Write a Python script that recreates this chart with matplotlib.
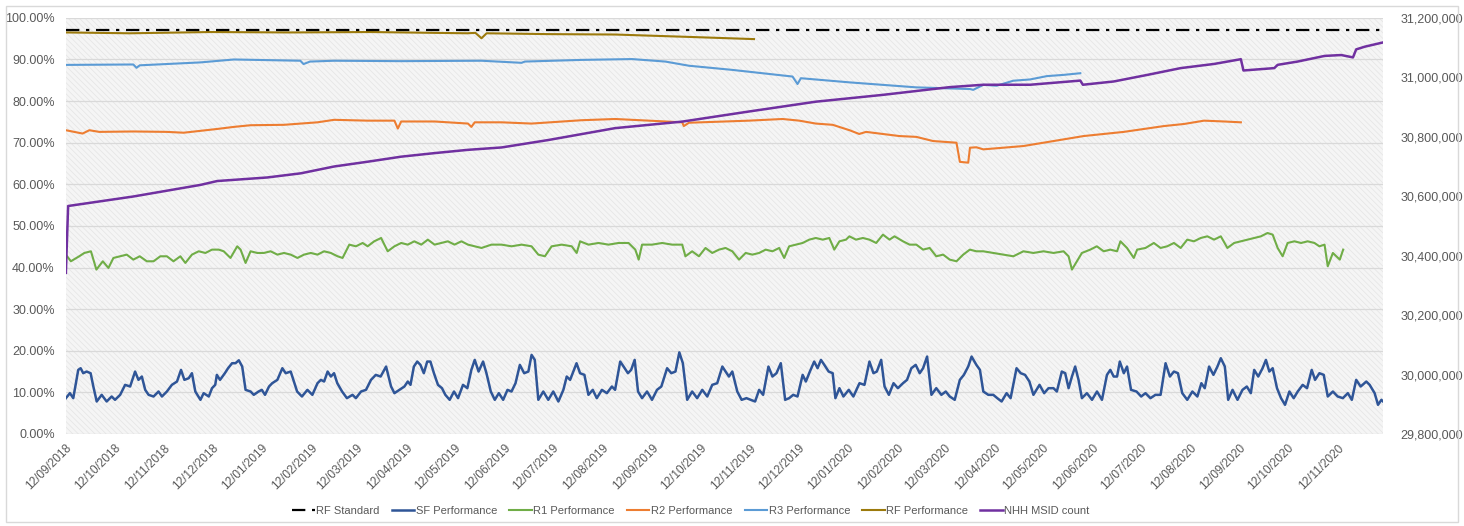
import numpy as np
import matplotlib
matplotlib.use("Agg")
import matplotlib.pyplot as plt
import matplotlib.dates as mdates
from matplotlib.patches import Rectangle
from matplotlib.ticker import FuncFormatter

START = "2018-09-12"
END_DAY = 820.5

RF_STANDARD = 97.0

# SF Performance (%), days after 12/09/2018
sf_day = [0, 2.5, 4.6, 7.7, 9.2, 10.8, 12.9, 15.4, 17.1, 19.2, 22.3, 25.4, 28.5, 30.6, 33.8, 36.9, 40, 43.1, 45.2, 47.3,
          49.4, 51.5, 54.6, 57.7, 59.8, 62.9, 66, 69.2, 71.7, 73.8, 76.5, 78.5, 80.6, 83.8, 85.8, 89, 91, 93, 94, 96,
          99, 101, 103.5, 105.6, 107.7, 109.8, 111.9, 115, 117, 120, 122, 124, 126.5, 128.5, 131.7, 134.8, 136.9, 140, 142, 144,
          147, 150.4, 153.5, 156.7, 158.8, 160.8, 163, 165, 167, 169, 172, 175, 178.5, 180.6, 183.8, 186.9, 190, 193, 196, 199.4,
          202.5, 204.6, 207.7, 210.8, 212.9, 214.6, 216.7, 218.8, 220.8, 222.9, 225, 227, 229.2, 231.7, 234.2, 236.3, 239, 241.7, 244.2, 247.3,
          250, 252.5, 254.6, 257, 259.8, 261.9, 264.6, 267.1, 269.6, 272.3, 275, 277.5, 280, 282.7, 285.4, 288, 290, 292, 294.2, 297.3,
          300.4, 303.5, 306.7, 309.8, 311.9, 314, 316, 318, 320.2, 322.9, 325.4, 328.1, 330.6, 333.8, 336.9, 340, 342, 345.2, 347.3, 350,
          352, 354.2, 356.3, 358.8, 361.9, 365, 368.1, 370.8, 374.4, 377, 379.6, 382, 384.2, 386.9, 390, 393.1, 396.3, 399.4, 402.5, 405.6,
          408.8, 410.8, 412.9, 415, 418.1, 420.8, 423.8, 426.5, 429.2, 431.7, 434.2, 437.5, 440, 442.5, 445.2, 447.9, 450.4, 452.9, 455.6, 458.8,
          460.8, 463.3, 466, 468.1, 470.2, 472.3, 475, 477.5, 479.2, 481.7, 484.2, 487.5, 490.4, 494.2, 497.3, 500.4, 502.9, 505, 507.7, 509.8,
          512.5, 515.4, 518.1, 521.3, 523.8, 526.5, 529.2, 531.7, 533.8, 536.3, 539, 542, 545.2, 547.9, 550.4, 553.5, 556.7, 559.2, 561.9, 564,
          567, 569.2, 571.3, 574.4, 577.5, 580, 582.7, 585.8, 588.3, 592, 594.6, 597.3, 600, 602.5, 606.3, 609.2, 611.9,
          615, 617.1, 620.2, 622.3, 624.4, 626.5, 628.5, 630.6, 632.7, 635.8, 639, 642.1, 645.2, 648.3, 650.4, 652.5, 654.6, 656.3, 658.8, 660.8,
          663.3, 666.7, 669.6, 672.3, 675.4, 678.5, 681.7, 684.8, 687.5, 690, 692.5, 695.2, 698.3, 701.5, 704.6, 707.1, 709.2, 711.9, 714.6, 717.1,
          719.2, 721.7, 723.8, 726.5, 729.6, 732.7, 735.4, 737.9, 740, 742.5, 745.2, 747.3, 749.4, 751.5, 754.2, 756.7, 759.2, 761.9, 764.6, 767.1,
          770.2, 772.9, 775.8, 777.9, 780.6, 783.3, 785.8, 789, 792, 795.2, 798.3, 800.8, 803.5, 806.3, 809.8, 811.9, 815, 817.1, 819.2, 821.3, 823.3]
sf_val = [8.6, 9.8, 8.6, 15.4, 15.8, 14.6, 15.0, 14.6, 11.4, 7.8, 9.4, 7.8, 9.0, 8.2, 9.4, 11.8, 11.4, 15.0, 13.0, 13.8,
          10.6, 9.4, 9.0, 10.2, 9.0, 10.2, 11.8, 12.6, 15.4, 13.0, 13.4, 14.6, 10.2, 8.2, 9.8, 9.0, 11.0, 11.8, 14.2, 13.0,
          14.6, 15.8, 17.0, 17.0, 17.7, 16.2, 10.6, 10.2, 9.4, 10.2, 10.6, 9.4, 11.4, 12.2, 13.0, 15.8, 14.6, 15.0, 12.6, 10.2,
          9.0, 10.6, 9.4, 12.2, 13.0, 12.6, 15.0, 13.8, 14.6, 12.2, 10.2, 8.6, 9.4, 8.6, 10.2, 10.6, 13.0, 14.2, 13.8, 16.2,
          11.4, 9.8, 10.6, 11.4, 12.6, 11.8, 16.2, 17.4, 16.6, 14.6, 17.4, 17.4, 14.6, 11.8, 11.0, 9.4, 8.2, 10.2, 8.6, 11.8,
          11.0, 15.4, 17.8, 15.0, 17.4, 14.6, 10.2, 8.2, 9.8, 8.2, 10.6, 10.2, 12.2, 16.6, 14.6, 15.0, 19.0, 17.8, 8.2, 10.2,
          8.2, 10.2, 7.8, 10.6, 13.8, 13.0, 15.0, 17.0, 14.6, 14.2, 9.4, 10.6, 8.6, 10.6, 9.8, 11.4, 10.6, 17.4, 16.2, 14.6,
          15.4, 17.8, 10.2, 8.6, 10.2, 8.2, 10.6, 11.4, 15.8, 14.6, 15.0, 19.6, 17.0, 8.2, 10.2, 8.6, 10.6, 9.0, 11.8, 12.2,
          16.2, 15.0, 13.8, 15.0, 10.2, 8.2, 8.6, 8.2, 7.8, 10.6, 9.4, 16.2, 13.8, 14.6, 17.0, 8.2, 8.6, 9.4, 9.0, 14.2,
          12.6, 15.0, 17.4, 15.8, 17.8, 16.6, 15.0, 14.6, 8.6, 11.0, 9.0, 10.6, 9.0, 12.2, 11.8, 17.4, 14.6, 15.0, 17.8, 11.4,
          9.4, 12.2, 11.0, 12.2, 13.0, 15.8, 16.6, 14.6, 15.8, 18.6, 9.4, 11.0, 9.4, 10.2, 9.0, 8.2, 13.0, 14.2, 16.2, 18.6,
          16.6, 15.4, 10.2, 9.4, 9.4, 8.6, 7.8, 9.8, 8.6, 15.8, 14.6, 14.2, 12.6, 9.4, 11.8, 9.8, 11.0,
          11.0, 10.2, 15.0, 14.6, 11.0, 13.8, 16.2, 13.0, 8.6, 9.8, 8.2, 10.2, 8.2, 14.2, 15.4, 13.8, 13.8, 17.4, 14.6, 16.2,
          10.6, 10.2, 9.0, 9.8, 8.6, 9.4, 9.4, 17.0, 13.8, 15.0, 14.6, 9.8, 8.2, 10.2, 9.0, 12.2, 11.0, 16.2, 14.2, 16.2,
          18.2, 16.2, 8.2, 10.6, 8.2, 10.6, 11.4, 9.8, 15.4, 13.8, 15.8, 17.8, 15.0, 15.8, 11.0, 8.6, 7.0, 10.2, 8.6, 10.2,
          11.8, 11.0, 15.4, 13.0, 14.6, 14.2, 9.0, 10.2, 9.0, 8.6, 9.8, 8.2, 13.0, 11.4, 12.6, 11.8, 9.8, 7.0, 8.2, 7.4, 8.6]

# R1 Performance (%)
r1_day = [0, 3.1, 8.3, 11.5, 15.6, 19, 23, 26.5, 29.6, 33.8, 37.9, 42, 46, 50.4, 54.6, 58.8, 62.9, 67, 71.3, 74.4,
          78.5, 82.7, 86.9, 91, 95.2, 98.3, 102.5, 106.7, 108.8, 111.9, 115, 119.2, 123.3, 127.5, 131.7, 135.8, 140, 144.2, 148.3, 152.5,
          156.7, 160.8, 165, 169.2, 172.3, 176.5, 180.6, 184.8, 187.9, 192, 196.3, 200.4, 204.6, 208.8, 212.9, 217, 221.3, 225.4, 229.6, 233.8,
          237.9, 242, 246.3, 250.4, 254.6,
          258.8, 265, 271.3, 277.5, 283.8, 290, 294.2, 298.3, 302.5, 308.8, 315, 318.1, 320.2, 325.4, 331.7, 337.9, 344.2, 350.4, 354.6, 356.7,
          358.8, 365, 371.3, 377.5, 383.8, 385.8, 390, 394.2, 398.3, 402.5, 406.7, 410.8, 415, 419.2, 423.3, 427.5, 431.7, 435.8, 440, 444.2,
          447.3, 450.4, 454.6, 458.8, 462.9, 467, 471.3, 475.4, 478.5, 481.7, 485.8, 487.9, 492, 496.3, 500.4, 504.6, 508.8, 512.9, 516, 521.3,
          525.4, 529.6, 533.8, 537.9, 542, 546.3, 550.4, 554.6, 558.8, 562.9, 567,
          571.3, 577.5, 583.8, 590, 596.3, 602.5, 608.8, 615, 621.3, 624.4, 626.5, 629.6, 632.7, 637.9, 642, 646.3, 650.4, 654.6, 656.7, 660.8,
          665, 667.1, 672.3, 677.5, 681.7, 685.8, 690, 694.2, 698.3, 702.5, 706.7, 710.8, 715, 719.2, 723.3, 727.5, 731.7, 735.8, 740, 744.2,
          748.3, 751.5, 754.6, 757.7, 760.8, 765, 769.2, 773.3, 777.5, 780.6, 783.8, 785.8, 789, 793.3, 795.4]
r1_val = [43.1, 41.5, 42.7, 43.5, 43.9, 39.5, 41.5, 39.9, 42.3, 42.7, 43.1, 41.9, 42.7, 41.5, 41.5, 42.7, 42.7, 41.5, 42.7, 41.1,
          43.1, 43.9, 43.5, 44.3, 44.3, 43.9, 42.3, 45.1, 44.3, 41.1, 43.9, 43.5, 43.5, 43.9, 43.1, 43.5, 43.1, 42.3, 43.1, 43.5,
          43.1, 43.9, 43.5, 42.7, 42.3, 45.5, 45.1, 45.9, 45.1, 46.3, 47.1, 43.9, 45.1, 45.9, 45.5, 46.3, 45.5, 46.7, 45.5, 45.9,
          46.3, 45.5, 46.3, 45.5, 45.1,
          44.7, 45.5, 45.5, 45.1, 45.5, 45.1, 43.1, 42.7, 45.1, 45.5, 45.1, 43.5, 46.3, 45.5, 45.9, 45.5, 45.9, 45.9, 44.3, 41.9,
          45.5, 45.5, 45.9, 45.5, 45.5, 42.7, 43.9, 42.7, 44.7, 43.5, 44.3, 44.7, 43.9, 41.9, 43.5, 43.1, 43.5, 44.3, 43.9, 44.7,
          42.3, 45.1, 45.5, 45.9, 46.7, 47.1, 46.7, 47.1, 44.3, 46.3, 46.7, 47.5, 46.7, 47.1, 46.7, 45.9, 47.9, 46.7, 47.5, 46.3,
          45.5, 45.5, 44.3, 44.7, 42.7, 43.1, 41.9, 41.5, 43.1, 44.3, 43.9,
          43.9, 43.5, 43.1, 42.7, 43.9, 43.5, 43.9, 43.5, 43.9, 42.7, 39.5, 41.5, 43.5, 44.3, 45.1, 43.9, 44.3, 43.9, 46.3, 44.7,
          42.3, 44.3, 44.7, 45.9, 44.7, 45.1, 45.9, 44.7, 46.7, 46.3, 47.1, 47.5, 46.7, 47.5, 44.7, 45.9, 46.3, 46.7, 47.1, 47.5,
          48.3, 47.9, 44.7, 42.7, 45.9, 46.3, 45.9, 46.3, 45.9, 45.1, 45.5, 40.3, 43.5, 41.9, 44.3]

# R2 Performance (%)
r2_day = [0, 10.4, 14.6, 20.8, 42, 62.9, 73.3, 94.2, 104.6, 115, 135.8, 156.7, 167, 187.9, 204.6, 206.7, 208.8, 229.6, 250.4, 252.5,
          254.6, 271.3, 290, 321, 342, 363, 383.8, 384.8, 388, 425.4, 446.3, 456.7, 467, 477.5, 488, 494, 498.3, 519, 529.6, 540,
          554.6, 556.7, 561.9, 563, 567, 571.3, 583.8, 596.3, 608.8, 621.3, 633.8, 646.3, 658.8, 671.3, 683.8, 696.3, 708.8, 721.3, 731.7]
r2_val = [73.0, 72.2, 73.0, 72.6, 72.7, 72.6, 72.4, 73.3, 73.8, 74.2, 74.3, 74.9, 75.5, 75.3, 75.3, 73.4, 75.1, 75.1, 74.6, 73.8,
          74.9, 74.9, 74.6, 75.4, 75.7, 75.3, 74.9, 74.0, 74.8, 75.3, 75.7, 75.3, 74.6, 74.3, 73.0, 72.1, 72.6, 71.6, 71.4, 70.4,
          70.0, 65.4, 65.2, 68.8, 68.9, 68.4, 68.8, 69.2, 70.0, 70.8, 71.6, 72.1, 72.6, 73.3, 74.0, 74.5, 75.3, 75.1, 74.9]

# R3 Performance (%)
r3_day = [0, 42, 44, 46, 83.8, 104.6, 146, 148, 152, 167, 208.8, 258.8, 283.8, 285.8, 321, 352.5, 373.3, 388, 415, 452.5,
          455.6, 457.7, 488, 529.6, 563, 565, 571.3, 579.6, 590, 600.4, 610.8, 621.3, 631.7]
r3_val = [88.7, 88.8, 88.0, 88.6, 89.3, 90.0, 89.7, 88.9, 89.5, 89.7, 89.6, 89.7, 89.2, 89.5, 89.9, 90.1, 89.5, 88.5, 87.5, 85.9,
          84.1, 85.5, 84.5, 83.3, 82.9, 82.7, 83.9, 83.7, 84.9, 85.2, 86.0, 86.3, 86.7]

# RF Performance (%)
rf_day = [0, 40, 90, 140, 190, 250, 255, 258.8, 262, 300, 342, 390, 428.5]
rf_val = [96.5, 96.3, 96.6, 96.5, 96.6, 96.3, 96.4, 95.1, 96.3, 96.1, 96.0, 95.4, 94.9]

# NHH MSID count (millions, right axis)
nhh_day = [0, 1.4, 42, 83.8, 94.2, 104.6, 125.4, 146.3, 167.1, 187.9, 208.8, 229.6, 250.4, 271.3, 300.4, 342, 383.8, 425.4, 467, 508.8,
           550.4, 571.3, 600.4, 631.7, 633.3, 652.5, 673.3, 694.2, 715, 731.7, 733.3, 752.5, 754.6, 767, 783.8, 794.2, 801.5, 803.5, 808.8, 822.3]
nhh_val = [30.342, 30.567, 30.599, 30.638, 30.651, 30.655, 30.663, 30.677, 30.700, 30.716, 30.733, 30.745, 30.756, 30.764, 30.789, 30.829,
           30.851, 30.885, 30.918, 30.941, 30.967, 30.975, 30.975, 30.989, 30.975, 30.986, 31.008, 31.031, 31.045, 31.061, 31.023, 31.031,
           31.042, 31.053, 31.072, 31.075, 31.067, 31.094, 31.103, 31.120]

SF_C = "#2f5597"
R1_C = "#70ad47"
R2_C = "#ed7d31"
R3_C = "#5b9bd5"
RF_C = "#9c7a0c"
NHH_C = "#7030a0"
TXT = "#595959"

plt.rcParams["font.family"] = ["Liberation Sans", "DejaVu Sans"]
plt.rcParams["hatch.linewidth"] = 0.5


def to_dates(days):
    return mdates.datestr2num(START) + np.asarray(days, dtype=float)


def main():
    fig = plt.figure(figsize=(14.64, 5.26), dpi=100)
    fig.patches.append(Rectangle((0.004, 0.008), 0.992, 0.98, transform=fig.transFigure,
                                 fill=False, edgecolor="#d9d9d9", linewidth=1))
    ax = fig.add_axes([0.045, 0.175, 0.9, 0.791])
    ax2 = ax.twinx()

    # light grey hatched plot area
    ax.set_facecolor("#f5f5f5")
    ax.add_patch(Rectangle((0, 0), 1, 1, transform=ax.transAxes, facecolor="none",
                           hatch="\\\\\\\\\\\\", edgecolor="#e4e4e4", linewidth=0, zorder=0))

    x0 = mdates.datestr2num(START)
    ax.axhline(RF_STANDARD, color="black", lw=1.6, dashes=(6, 3, 1.5, 3), zorder=6, label="RF Standard")
    ax.plot(to_dates(sf_day), sf_val, color=SF_C, lw=1.8, label="SF Performance", zorder=3)
    ax.plot(to_dates(r1_day), r1_val, color=R1_C, lw=1.5, label="R1 Performance", zorder=3)
    ax.plot(to_dates(r2_day), r2_val, color=R2_C, lw=1.5, label="R2 Performance", zorder=3)
    ax.plot(to_dates(r3_day), r3_val, color=R3_C, lw=1.5, label="R3 Performance", zorder=3)
    ax.plot(to_dates(rf_day), rf_val, color=RF_C, lw=1.5, label="RF Performance", zorder=3)
    ax2.plot(to_dates(nhh_day), np.array(nhh_val) * 1e6, color=NHH_C, lw=1.8, label="NHH MSID count")

    ax.set_ylim(0, 100)
    ax.set_yticks(np.arange(0, 101, 10))
    ax.yaxis.set_major_formatter(FuncFormatter(lambda v, p: f"{v:.2f}%"))
    ax.grid(axis="y", color="#d9d9d9", lw=0.9)
    ax.set_axisbelow(True)

    ax2.set_ylim(29.8e6, 31.2e6)
    ax2.set_yticks(np.arange(29.8e6, 31.21e6, 0.2e6))
    ax2.yaxis.set_major_formatter(FuncFormatter(lambda v, p: f"{v:,.0f}"))

    ax.set_xlim(x0, x0 + END_DAY)
    ax.xaxis.set_major_locator(mdates.MonthLocator(bymonthday=12))
    ax.xaxis.set_major_formatter(mdates.DateFormatter("%d/%m/%Y"))
    for lab in ax.get_xticklabels():
        lab.set_rotation(45)
        lab.set_ha("right")
        lab.set_rotation_mode("anchor")

    for a in (ax, ax2):
        for s in a.spines.values():
            s.set_visible(False)
        a.tick_params(length=0, labelsize=9, colors=TXT)
    ax.tick_params(axis="x", labelsize=8.5, pad=6)
    ax.tick_params(axis="y", pad=8)
    ax2.tick_params(axis="y", pad=12)

    h1, l1 = ax.get_legend_handles_labels()
    h2, l2 = ax2.get_legend_handles_labels()
    fig.legend(h1 + h2, l1 + l2, loc="center", bbox_to_anchor=(0.472, 0.028), ncol=7, frameon=False,
               fontsize=8, handlelength=2.0, columnspacing=1.1, handletextpad=0.15, labelcolor=TXT)

    fig.savefig("out.png", dpi=100)


if __name__ == "__main__":
    main()
